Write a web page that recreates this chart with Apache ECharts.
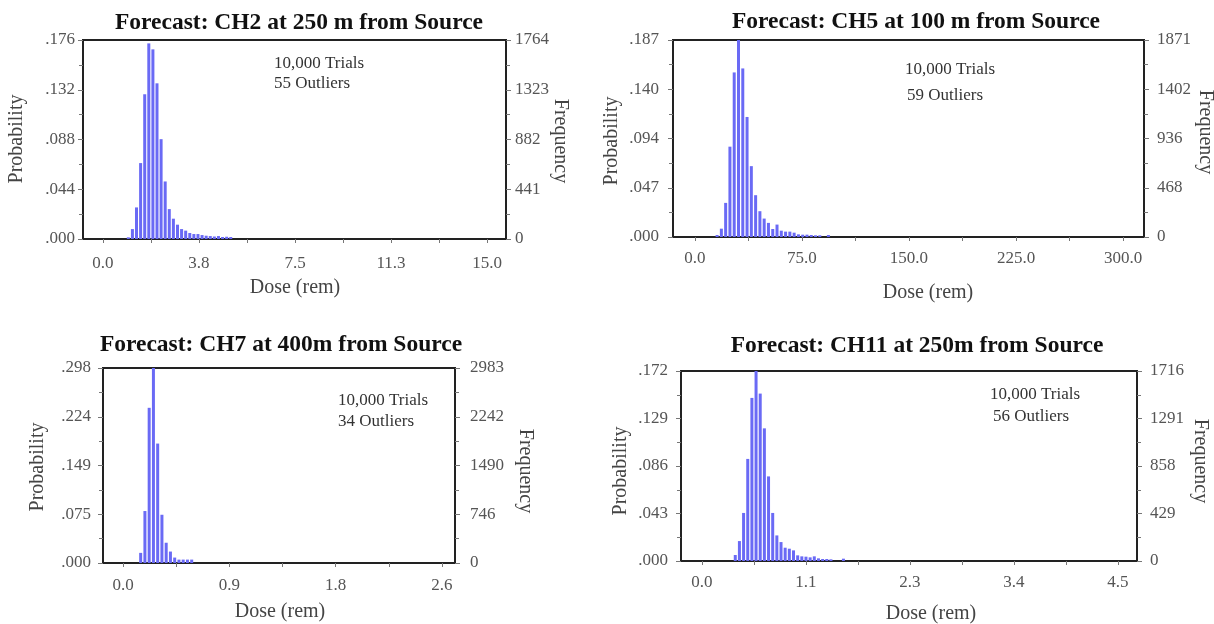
<!DOCTYPE html>
<html>
<head>
<meta charset="utf-8">
<title>Dose forecasts</title>
<script src="https://cdn.jsdelivr.net/npm/echarts@6/dist/echarts.min.js"></script>
<style>
html, body { margin: 0; padding: 0; background: #fff; }
#main { width: 1214px; height: 624px; }
</style>
</head>
<body>
<div id="main"></div>
<script>
// CH2 at 250 m : bin centres (rem) and counts out of 10,000 trials
var ch2Dose = [0.99, 1.15, 1.31, 1.47, 1.63, 1.79, 1.95, 2.11, 2.27, 2.43, 2.59, 2.75, 2.91,
  3.07, 3.23, 3.39, 3.55, 3.71, 3.87, 4.03, 4.19, 4.35, 4.51, 4.67, 4.83, 4.99];
var ch2Freq = [15, 88, 280, 673, 1283, 1734, 1681, 1380, 885, 510, 265, 180, 127,
  88, 74, 53, 44, 44, 35, 29, 26, 22, 26, 18, 20, 18];
var ch2XTicks = [0, 3.75, 7.5, 11.25, 15];
var ch2ProbLabels = ['.000', '.044', '.088', '.132', '.176'];
var ch2FreqLabels = ['0', '441', '882', '1323', '1764'];

// CH5 at 100 m
var ch5Dose = [15.5, 18.5, 21.5, 24.5, 27.5, 30.5, 33.5, 36.5, 39.5, 42.5, 45.5, 48.5, 51.5,
  54.5, 57.5, 60.5, 63.5, 66.5, 69.5, 72.5, 75.5, 78.5, 81.5, 84.5, 87.5, 93.5];
var ch5Freq = [19, 79, 324, 858, 1563, 1871, 1601, 1140, 673, 397, 245, 175, 134,
  76, 118, 60, 51, 51, 41, 25, 22, 22, 19, 16, 16, 19];
var ch5XTicks = [0, 75, 150, 225, 300];
var ch5ProbLabels = ['.000', '.047', '.094', '.140', '.187'];
var ch5FreqLabels = ['0', '468', '936', '1402', '1871'];

// CH7 at 400 m
var ch7Dose = [0.145, 0.18, 0.215, 0.25, 0.285, 0.32, 0.355, 0.39, 0.425, 0.46, 0.495, 0.53, 0.565];
var ch7Freq = [155, 795, 2374, 2983, 1827, 738, 310, 175, 83, 52, 52, 52, 52];
var ch7XTicks = [0, 0.875, 1.75, 2.625];
var ch7ProbLabels = ['.000', '.075', '.149', '.224', '.298'];
var ch7FreqLabels = ['0', '746', '1490', '2242', '2983'];

// CH11 at 250 m
var ch11Dose = [0.36, 0.405, 0.45, 0.495, 0.54, 0.585, 0.63, 0.675, 0.72, 0.765, 0.81, 0.855,
  0.9, 0.945, 0.99, 1.035, 1.08, 1.125, 1.17, 1.215, 1.26, 1.305, 1.35, 1.395, 1.53];
var ch11Freq = [54, 180, 434, 922, 1473, 1716, 1512, 1198, 764, 434, 231, 171,
  120, 111, 96, 51, 42, 39, 33, 42, 24, 18, 18, 15, 21];
var ch11XTicks = [0, 1.125, 2.25, 3.375, 4.5];
var ch11ProbLabels = ['.000', '.043', '.086', '.129', '.172'];
var ch11FreqLabels = ['0', '429', '858', '1291', '1716'];

var titles = ['Forecast: CH2 at 250 m from Source', 'Forecast: CH5 at 100 m from Source',
  'Forecast: CH7 at 400m from Source', 'Forecast: CH11 at 250m from Source'];
var outliers = ['55 Outliers', '59 Outliers', '34 Outliers', '56 Outliers'];

var FONT = '"Liberation Serif", "Times New Roman", serif';
var myChart = echarts.init(document.getElementById('main'));

var panels = [
  { dose: ch2Dose, freq: ch2Freq, ticks: ch2XTicks, prob: ch2ProbLabels, cnt: ch2FreqLabels,
    box: [83, 40, 423, 199], xr: [-0.78, 15.74], lm: [16, 8, 9],
    title: [299, 23], note: [274, 64, 274, 84], py: [17, 139], fy: [560, 141], dx: [295, 288] },
  { dose: ch5Dose, freq: ch5Freq, ticks: ch5XTicks, prob: ch5ProbLabels, cnt: ch5FreqLabels,
    box: [673, 40, 471, 197], xr: [-15.4, 314.7], lm: [13, 14, 13],
    title: [916, 22], note: [905, 70, 907, 96], py: [612, 141], fy: [1205, 132], dx: [928, 293] },
  { dose: ch7Dose, freq: ch7Freq, ticks: ch7XTicks, prob: ch7ProbLabels, cnt: ch7FreqLabels,
    box: [103, 368, 352, 195], xr: [-0.165, 2.732], lm: [14, 12, 15],
    title: [281, 345], note: [338, 401, 338, 422], py: [38, 467], fy: [525, 471], dx: [280, 612] },
  { dose: ch11Dose, freq: ch11Freq, ticks: ch11XTicks, prob: ch11ProbLabels, cnt: ch11FreqLabels,
    box: [681, 371, 456, 190], xr: [-0.227, 4.706], lm: [13, 13, 13],
    title: [917, 346], note: [990, 395, 993, 417], py: [621, 471], fy: [1200, 461], dx: [931, 614] }
];

var grids = [], xAxes = [], yAxes = [], series = [], texts = [];
var tickStyle = { color: '#777', width: 1 };
var lineStyle = { color: '#222', width: 2 };

panels.forEach(function (p, i) {
  var top = Number(p.cnt[p.cnt.length - 1]);
  var minor = [];
  for (var k = 0; k < p.ticks.length; k++) {
    minor.push(p.ticks[k]);
    if (k < p.ticks.length - 1) minor.push((p.ticks[k] + p.ticks[k + 1]) / 2);
  }
  grids.push({ left: p.box[0], top: p.box[1], width: p.box[2], height: p.box[3],
    show: true, borderColor: '#222', borderWidth: 2, containLabel: false });
  xAxes.push({
    type: 'value', gridIndex: i, min: p.xr[0], max: p.xr[1],
    axisLine: { show: true, onZero: false, lineStyle: lineStyle },
    axisTick: { show: true, customValues: minor, length: 4, lineStyle: tickStyle },
    axisLabel: { customValues: p.ticks, margin: p.lm[0], color: '#555', fontFamily: FONT, fontSize: 17,
      formatter: function (v) { return v.toFixed(1); } },
    splitLine: { show: false }
  });
  var probLabels = p.prob, cntLabels = p.cnt;
  yAxes.push({
    type: 'value', gridIndex: i, position: 'left', min: 0, max: top, interval: top / 4,
    axisLine: { show: true, onZero: false, lineStyle: lineStyle },
    axisTick: { show: true, length: 5, lineStyle: tickStyle },
    minorTick: { show: true, splitNumber: 2, length: 4, lineStyle: tickStyle },
    axisLabel: { margin: p.lm[1], color: '#555', fontFamily: FONT, fontSize: 17,
      formatter: function (v, idx) { return probLabels[idx]; } },
    splitLine: { show: false }
  });
  yAxes.push({
    type: 'value', gridIndex: i, position: 'right', min: 0, max: top, interval: top / 4,
    axisLine: { show: true, onZero: false, lineStyle: lineStyle },
    axisTick: { show: true, length: 5, lineStyle: tickStyle },
    minorTick: { show: true, splitNumber: 2, length: 4, lineStyle: tickStyle },
    axisLabel: { margin: p.lm[2], color: '#555', fontFamily: FONT, fontSize: 17,
      formatter: function (v, idx) { return cntLabels[idx]; } },
    splitLine: { show: false }
  });
  series.push({
    type: 'bar', xAxisIndex: i, yAxisIndex: 2 * i + 1, barWidth: 3,
    itemStyle: { color: '#6a6af5' },
    data: p.dose.map(function (d, j) { return [d, p.freq[j]]; })
  });

  texts.push({ type: 'text', x: p.title[0], y: p.title[1],
    style: { text: titles[i], fill: '#111', fontFamily: FONT, fontSize: 23.5, fontWeight: 'bold',
      textAlign: 'center', textVerticalAlign: 'middle' } });
  texts.push({ type: 'text', x: p.note[0], y: p.note[1],
    style: { text: '10,000 Trials', fill: '#333', fontFamily: FONT, fontSize: 17,
      textAlign: 'left', textVerticalAlign: 'middle' } });
  texts.push({ type: 'text', x: p.note[2], y: p.note[3],
    style: { text: outliers[i], fill: '#333', fontFamily: FONT, fontSize: 17,
      textAlign: 'left', textVerticalAlign: 'middle' } });
  texts.push({ type: 'text', x: p.py[0], y: p.py[1], rotation: Math.PI / 2,
    style: { text: 'Probability', fill: '#444', fontFamily: FONT, fontSize: 20,
      textAlign: 'center', textVerticalAlign: 'middle' } });
  texts.push({ type: 'text', x: p.fy[0], y: p.fy[1], rotation: -Math.PI / 2,
    style: { text: 'Frequency', fill: '#444', fontFamily: FONT, fontSize: 20,
      textAlign: 'center', textVerticalAlign: 'middle' } });
  texts.push({ type: 'text', x: p.dx[0], y: p.dx[1],
    style: { text: 'Dose (rem)', fill: '#444', fontFamily: FONT, fontSize: 20,
      textAlign: 'center', textVerticalAlign: 'middle' } });
});

var option = {
  backgroundColor: '#fff',
  animation: false,
  grid: grids,
  xAxis: xAxes,
  yAxis: yAxes,
  series: series,
  graphic: texts
};

myChart.setOption(option);
</script>
</body>
</html>
